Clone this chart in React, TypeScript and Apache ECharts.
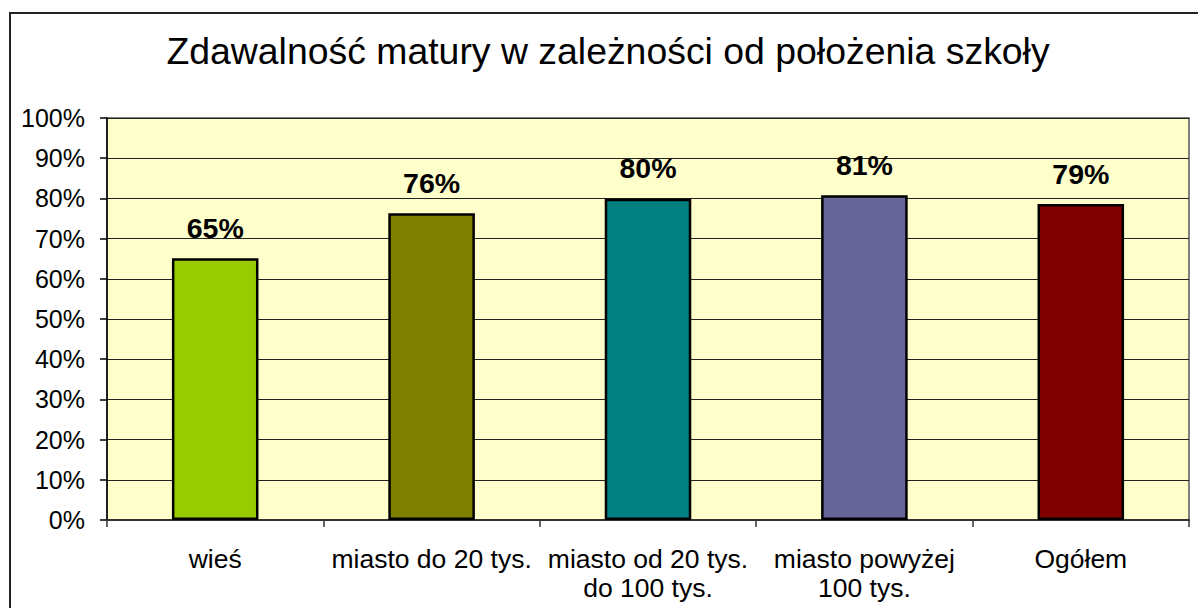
import React, { useEffect, useRef } from "react";
import * as echarts from "echarts";

const titleText = "Zdawalność matury w zależności od położenia szkoły";
const categories = [
  "wieś",
  "miasto do 20 tys.",
  "miasto od 20 tys.\ndo 100 tys.",
  "miasto powyżej\n100 tys.",
  "Ogółem",
];
const values = [0.651, 0.763, 0.799, 0.808, 0.786];
const barColors = ["#99CC00", "#808000", "#008080", "#666699", "#800000"];
const yTicks = { min: 0, max: 1, interval: 0.1 };

const FONT = "Arial, 'Liberation Sans', sans-serif";

export default function App() {
  const ref = useRef<HTMLDivElement>(null);
  useEffect(() => {
    if (!ref.current) return;
    const chart = echarts.init(ref.current, null, { renderer: "svg" });
    chart.setOption({
      animation: false,
      backgroundColor: "#ffffff",
      title: {
        text: titleText,
        left: 603,
        textAlign: "center",
        top: 27,
        textStyle: { fontFamily: FONT, fontSize: 37.4, fontWeight: "normal", color: "#000" },
      },
      graphic: [
        {
          type: "rect",
          shape: { x: 10, y: 13, width: 1300, height: 700 },
          style: { fill: "none", stroke: "#222", lineWidth: 2 },
          silent: true,
          z: 100,
        },
      ],
      grid: {
        left: 107,
        top: 118,
        right: 9,
        bottom: 88,
        show: true,
        backgroundColor: "#FFFFCC",
        borderColor: "#808080",
        borderWidth: 2,
      },
      xAxis: {
        type: "category",
        data: categories,
        boundaryGap: true,
        axisLine: { show: true, lineStyle: { color: "#333", width: 2 } },
        axisTick: { show: true, length: 7, lineStyle: { color: "#333", width: 1.5 } },
        axisLabel: {
          fontFamily: FONT,
          fontSize: 26.5,
          color: "#000",
          margin: 24,
          lineHeight: 29,
          interval: 0,
        },
      },
      yAxis: {
        type: "value",
        min: yTicks.min,
        max: yTicks.max,
        interval: yTicks.interval,
        axisLine: { show: true, lineStyle: { color: "#000", width: 1.5 } },
        axisTick: { show: true, length: 7, lineStyle: { color: "#000", width: 1.5 } },
        splitLine: { show: true, lineStyle: { color: "#222", width: 1.2 } },
        axisLabel: {
          fontFamily: FONT,
          fontSize: 25,
          color: "#000",
          margin: 22,
          formatter: (v: number) => Math.round(v * 100) + "%",
        },
      },
      series: [
        {
          type: "bar",
          barWidth: "40%",
          data: values.map((v, i) => ({
            value: v,
            itemStyle: { color: barColors[i], borderColor: "#000", borderWidth: 2.5 },
          })),
          label: {
            show: true,
            position: "top",
            distance: 16,
            fontFamily: FONT,
            fontSize: 28.5,
            fontWeight: "bold",
            color: "#000",
            formatter: (p: any) => Math.round(p.value * 100) + "%",
          },
        },
      ],
    });
    return () => chart.dispose();
  }, []);
  return (
    <div
      ref={ref}
      style={{ position: "absolute", left: 0, top: 0, width: 1198, height: 608 }}
    />
  );
}
